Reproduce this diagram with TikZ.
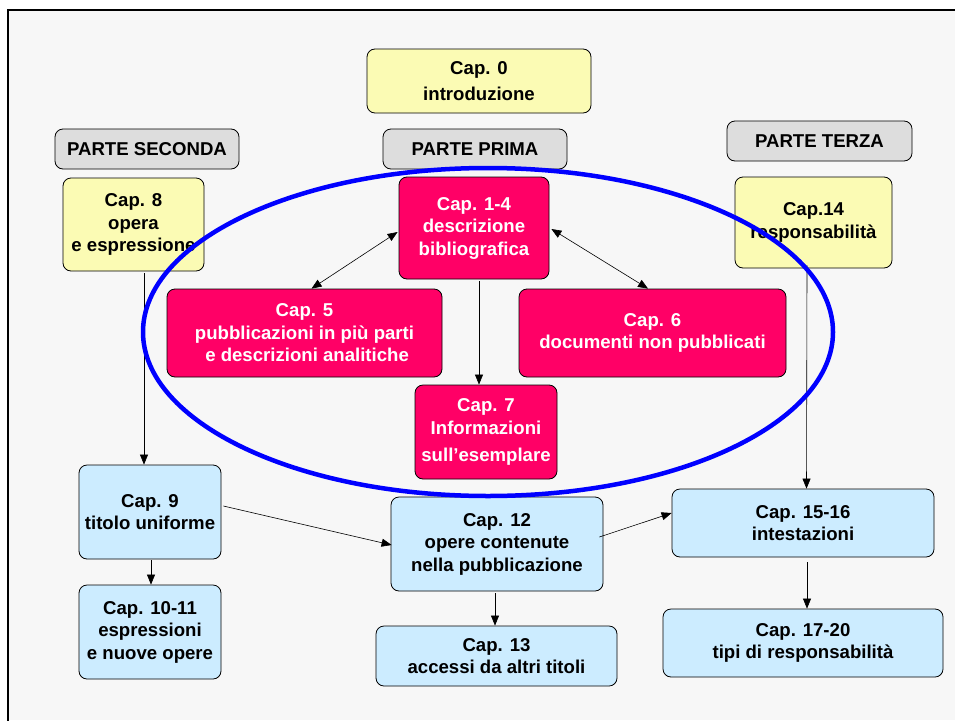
\documentclass[tikz,border=0pt]{standalone}
\usepackage{fontspec}
\setmainfont{Liberation Sans}
\usetikzlibrary{arrows.meta,calc,shapes.geometric}
\definecolor{bgc}{RGB}{247,247,247}
\definecolor{yel}{RGB}{251,251,180}
\definecolor{lblue}{RGB}{204,236,255}
\definecolor{pinkc}{RGB}{255,0,102}
\definecolor{grayc}{RGB}{221,221,221}
\definecolor{ellc}{RGB}{0,0,255}
\tikzset{
  box/.style={draw=black, line width=0.8pt, rounded corners=8pt, align=center, inner sep=0pt,
    font=\fontsize{18.6}{22.5}\selectfont\bfseries},
  yelbox/.style={box, fill=yel},
  bluebox/.style={box, fill=lblue},
  pinkbox/.style={box, fill=pinkc, text=white},
  partbox/.style={box, fill=grayc},
  arr/.style={-{Triangle[length=10pt,width=8pt]}, line width=0.6pt},
  darr/.style={{Triangle[length=10pt,width=8pt]}-{Triangle[length=10pt,width=8pt]}, line width=0.6pt},
}
\begin{document}
\begin{tikzpicture}[x=1pt,y=-1pt]
\useasboundingbox (0,0) rectangle (955,720);
\fill[white] (0,0) rectangle (955,720);
\fill[bgc] (8,10) rectangle (955,720);
\draw[line width=2pt] (8,730) -- (8,10) -- (965,10);

\node[yelbox, minimum width=224pt, minimum height=64pt, font=\fontsize{18.6}{26}\selectfont\bfseries] (cap0) at (479,81) {Cap. 0\\introduzione};
\node[partbox, minimum width=184pt, minimum height=40pt] (pprima) at (475,149) {PARTE PRIMA};
\node[partbox, minimum width=184pt, minimum height=40pt] (pseconda) at (147,149) {PARTE SECONDA};
\node[partbox, minimum width=185pt, minimum height=40pt] (pterza) at (819.5,141) {PARTE TERZA};

\node[yelbox, minimum width=141pt, minimum height=93pt] (cap8) at (133.5,224.5) {Cap. 8\\opera\\e espressione};
\node[yelbox, minimum width=157pt, minimum height=91pt] (cap14) at (813.5,222.5) {Cap.14\\responsabilità};

\node[pinkbox, minimum width=150pt, minimum height=102pt] (c14) at (474,228) {Cap. 1-4\\descrizione\\bibliografica};
\node[pinkbox, minimum width=275pt, minimum height=88pt] (cap5) at (304.5,333) {Cap. 5\\pubblicazioni in più parti\\\ e descrizioni analitiche};
\node[pinkbox, minimum width=267pt, minimum height=88pt] (cap6) at (652.5,333) {Cap. 6\\documenti non pubblicati};
\node[pinkbox, minimum width=142pt, minimum height=94pt] (cap7) at (486,432) {Cap. 7\\Informazioni\\[5pt]sull’esemplare};

\node[bluebox, minimum width=142pt, minimum height=94pt] (cap9) at (150,512) {Cap. 9\\titolo uniforme};
\node[bluebox, minimum width=142pt, minimum height=94pt] (cap1011) at (150,632) {Cap. 10-11\\espressioni\ \\e nuove opere};
\node[bluebox, minimum width=212pt, minimum height=94pt] (cap12) at (497,544) {Cap. 12\\opere contenute\\nella pubblicazione};
\node[bluebox, minimum width=241pt, minimum height=60pt] (cap13) at (496.5,656) {Cap. 13\\accessi da altri titoli};
\node[bluebox, minimum width=262pt, minimum height=68pt] (cap1516) at (803,523) {Cap. 15-16\\intestazioni};
\node[bluebox, minimum width=280pt, minimum height=68pt] (cap1720) at (803,643) {Cap. 17-20\\tipi di responsabilità};

\draw[darr] ($(c14.west)+(-1,4)$) -- ($(cap5.north)+(7,0)$);
\draw[darr] ($(c14.east)+(2,1)$) -- ($(cap6.north)+(-4.5,0)$);
\draw[arr] ($(c14.south)+(5,2)$) -- ($(cap7.north)+(-7,0)$);
\draw[arr] ($(cap8.south)+(10.5,2)$) -- ($(cap9.north)+(-6,0)$);
\draw[arr] ($(cap9.south)+(1,1)$) -- ($(cap1011.north)+(1,0)$);
\draw[arr] ($(cap9.east)+(2,-6)$) -- ($(cap12.west)+(1,1)$);
\draw[arr] ($(cap12.east)+(-4,-7)$) -- ($(cap1516.west)+(0,-10)$);
\draw[arr] ($(cap14.south)+(-6.5,-3)$) -- ($(cap1516.north)+(3.5,0)$);
\draw[arr] ($(cap12.south)+(-2,2)$) -- ($(cap13.north)+(-1.5,0)$);
\draw[arr] ($(cap1516.south)+(4,5)$) -- ($(cap1720.north)+(4,0)$);

\node[draw=ellc, line width=4.5pt, ellipse, minimum width=690pt, minimum height=328pt, inner sep=0pt] (ell) at (488,332) {};
\end{tikzpicture}
\end{document}
